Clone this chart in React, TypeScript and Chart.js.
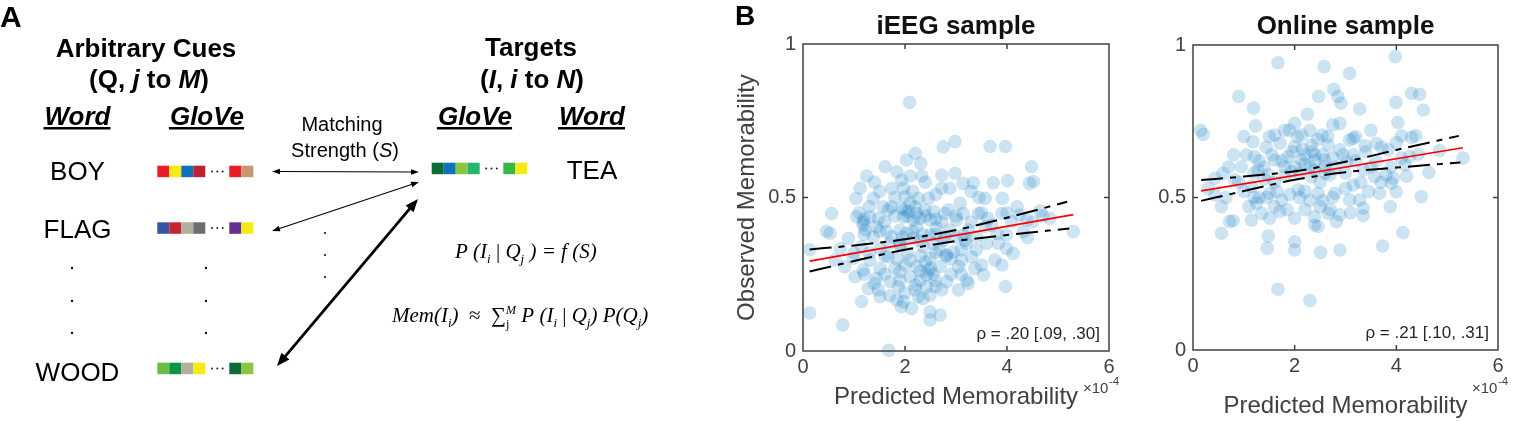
import React, { useEffect, useRef } from "react";
import { Chart, registerables } from "chart.js";

Chart.register(...registerables);

const SANS = '"Liberation Sans", Arial, Helvetica, sans-serif';
const SERIF = '"Liberation Serif", "Times New Roman", serif';
const AXIS = "#404040";

// ---------------- Panel A (diagram) ----------------
const cueWords = ["BOY", "FLAG", "WOOD"];
const cueGloveHead = [
  ["#ED1C24", "#F5EB14", "#0E72BA", "#BE2230"],
  ["#3A53A4", "#C4252F", "#B3AFA0", "#6D6E70"],
  ["#6ABD45", "#0D9547", "#B3AFA0", "#F5EB14"],
];
const cueGloveTail = [
  ["#EC1C24", "#C49A6C"],
  ["#662E91", "#F5EB14"],
  ["#0C6B37", "#8BC53F"],
];
const targetWord = "TEA";
const targetGloveHead = ["#0C6B37", "#0E72BA", "#8BC53F", "#27B473"];
const targetGloveTail = ["#3AB54A", "#F5EB14"];

// ---------------- Panel B (scatter) ----------------
// x values are in units of 1e-4
const xTicks = [0, 2, 4, 6];
const yTicks = [0, 0.5, 1];

const ieegPoints: [number, number][] = [
  [2.09, 0.81], [0.13, 0.33], [0.46, 0.39], [0.13, 0.124], [1.68, 0.002],
  [2.98, 0.682], [2.75, 0.665], [2.2, 0.644], [2.03, 0.622], [2.31, 0.611], [1.61, 0.6],
  [1.84, 0.584], [1.25, 0.57], [2.33, 0.57], [2.72, 0.573], [2.98, 0.579], [1.93, 0.557],
  [3.14, 0.546], [1.12, 0.53], [1.74, 0.53], [1.97, 0.53], [2.72, 0.53], [2.88, 0.53],
  [1.04, 0.497], [1.38, 0.497], [2.0, 0.503], [2.26, 0.497], [2.46, 0.497], [2.1, 0.481],
  [3.08, 0.481], [1.57, 0.47], [0.56, 0.448], [1.74, 0.47], [1.93, 0.465], [2.07, 0.454],
  [2.23, 0.448], [2.39, 0.459], [2.56, 0.454], [2.78, 0.448], [3.14, 0.448], [1.67, 0.459],
  [1.05, 0.437], [1.31, 0.437], [1.48, 0.432], [1.97, 0.437], [2.16, 0.427], [2.29, 0.432],
  [2.49, 0.427], [2.72, 0.421], [3.01, 0.427], [1.18, 0.41], [1.44, 0.405], [1.22, 0.394],
  [1.64, 0.389], [1.9, 0.394], [2.03, 0.383], [2.23, 0.405], [2.62, 0.4], [2.88, 0.394],
  [0.53, 0.383], [0.89, 0.367], [1.38, 0.372], [1.74, 0.372], [2.16, 0.367], [2.49, 0.378],
  [2.78, 0.372], [3.14, 0.378], [0.73, 0.334], [1.15, 0.34], [1.51, 0.334], [1.9, 0.345],
  [2.36, 0.34], [2.69, 0.329], [2.95, 0.323], [0.63, 0.296], [0.99, 0.302], [1.31, 0.296],
  [1.67, 0.307], [2.1, 0.296], [2.49, 0.302], [2.82, 0.313], [3.11, 0.296], [0.82, 0.275],
  [1.18, 0.264], [1.51, 0.269], [1.9, 0.258], [2.23, 0.275], [2.46, 0.264], [2.69, 0.275],
  [3.05, 0.275], [1.02, 0.242], [1.44, 0.237], [1.71, 0.226], [2.1, 0.242], [2.42, 0.248],
  [2.59, 0.231], [2.82, 0.226], [3.21, 0.231], [1.28, 0.204], [1.48, 0.199], [1.87, 0.209],
  [2.2, 0.215], [2.42, 0.209], [2.72, 0.199], [3.05, 0.199], [1.15, 0.161], [1.51, 0.177],
  [1.84, 0.166], [1.97, 0.161], [2.26, 0.177], [2.49, 0.182], [1.93, 0.144], [2.13, 0.139],
  [2.49, 0.128], [0.78, 0.085], [2.49, 0.101], [2.69, 0.117],
  [3.67, 0.666], [3.97, 0.666], [4.48, 0.6], [4.44, 0.546], [4.52, 0.552], [3.34, 0.548],
  [3.73, 0.548], [4.01, 0.555], [3.57, 0.497], [3.91, 0.497], [3.44, 0.448], [3.9, 0.448],
  [4.25, 0.443], [4.65, 0.457], [4.84, 0.432], [3.63, 0.432], [4.09, 0.421], [4.39, 0.427],
  [5.3, 0.389], [4.32, 0.389], [3.99, 0.378], [3.4, 0.372], [3.8, 0.383], [3.57, 0.405],
  [3.24, 0.394], [3.83, 0.351], [3.99, 0.334], [4.12, 0.318], [3.76, 0.296], [3.31, 0.307],
  [3.37, 0.269], [3.54, 0.248], [3.24, 0.22], [3.97, 0.21], [3.18, 0.361],
  [1.18, 0.42], [2.05, 0.44], [2.5, 0.27], [2.8, 0.31], [2.2, 0.2], [1.2, 0.43],
  [2.4, 0.29], [2.6, 0.38], [1.9, 0.35], [2.3, 0.36],
  [1.1, 0.45], [1.3, 0.47], [1.6, 0.42], [1.8, 0.44], [2.0, 0.46], [2.2, 0.47], [2.4, 0.44],
  [2.6, 0.43], [2.85, 0.46], [3.0, 0.44], [1.2, 0.38], [1.5, 0.39], [1.7, 0.35], [1.95, 0.37],
  [2.15, 0.39], [2.35, 0.38], [2.55, 0.35], [2.75, 0.36], [3.0, 0.37], [3.2, 0.35], [1.0, 0.32],
  [1.3, 0.32], [1.6, 0.31], [1.85, 0.3], [2.05, 0.32], [2.3, 0.31], [2.6, 0.32], [2.9, 0.3],
  [3.1, 0.33], [1.2, 0.25], [1.6, 0.25], [1.8, 0.27], [2.0, 0.28], [2.3, 0.26], [2.55, 0.25],
  [2.9, 0.25], [3.1, 0.25], [1.4, 0.22], [1.9, 0.23], [2.3, 0.23], [2.6, 0.21], [2.0, 0.19],
  [2.35, 0.17], [1.7, 0.18], [1.5, 0.52], [1.8, 0.5], [2.15, 0.52], [2.6, 0.51], [2.4, 0.55],
  [2.1, 0.57], [1.4, 0.55], [3.3, 0.52], [3.5, 0.45], [3.3, 0.42], [3.6, 0.35], [3.4, 0.33],
  [3.5, 0.28], [3.7, 0.41], [4.2, 0.47], [4.5, 0.42], [4.7, 0.44], [4.0, 0.45], [4.4, 0.37],
  [3.9, 0.28], [3.45, 0.5],
];
const ieegFit: [number, number][] = [[0.13, 0.293], [5.3, 0.444]];
const ieegUpper: [number, number][] = [[0.13, 0.331], [1, 0.344], [2, 0.364], [3, 0.394], [4, 0.434], [5.18, 0.486]];
const ieegLower: [number, number][] = [[0.13, 0.259], [1, 0.293], [2, 0.33], [3, 0.358], [4, 0.378], [5.22, 0.399]];
const ieegRho = "ρ = .20 [.09, .30]";

const onlinePoints: [number, number][] = [
  [1.67, 0.942], [2.58, 0.929], [3.08, 0.907], [0.9, 0.831], [1.19, 0.793], [2.77, 0.855],
  [2.85, 0.831], [2.91, 0.809], [2.47, 0.831], [2.25, 0.773], [1.23, 0.735], [2.0, 0.743],
  [1.18, 0.683], [1.61, 0.705], [1.9, 0.721], [2.14, 0.705], [2.54, 0.705], [2.75, 0.738],
  [2.89, 0.743], [3.08, 0.689], [1.05, 0.64], [1.44, 0.665], [1.71, 0.678], [2.0, 0.667],
  [2.33, 0.672], [2.66, 0.672], [2.89, 0.656], [1.21, 0.634], [0.95, 0.601], [1.61, 0.623],
  [1.87, 0.634], [2.13, 0.623], [2.39, 0.64], [2.59, 0.623], [3.02, 0.618], [0.59, 0.579],
  [0.82, 0.558], [1.28, 0.59], [1.48, 0.574], [1.94, 0.585], [2.33, 0.568], [2.69, 0.574],
  [0.43, 0.563], [0.43, 0.508], [0.56, 0.47], [1.15, 0.536], [1.25, 0.481], [1.51, 0.514],
  [1.74, 0.492], [2.07, 0.525], [2.46, 0.514], [2.79, 0.514], [3.08, 0.492], [1.35, 0.448],
  [1.71, 0.454], [2.0, 0.432], [2.39, 0.437], [2.66, 0.448], [2.89, 0.443], [0.79, 0.424],
  [0.72, 0.421], [1.15, 0.426], [1.51, 0.432], [2.39, 0.41], [2.46, 0.405], [2.82, 0.421],
  [0.56, 0.383], [1.48, 0.374], [1.46, 0.334], [2.0, 0.355], [2.0, 0.328], [2.51, 0.32],
  [2.89, 0.328], [1.67, 0.199], [2.3, 0.162],
  [3.98, 0.962], [4.3, 0.842], [4.46, 0.838], [3.99, 0.812], [3.28, 0.79], [4.53, 0.787],
  [4.03, 0.746], [4.1, 0.702], [4.3, 0.697], [4.38, 0.702], [3.15, 0.694], [3.61, 0.678],
  [3.71, 0.665], [3.38, 0.669], [3.84, 0.656], [4.85, 0.654], [4.43, 0.642], [4.26, 0.634],
  [4.1, 0.629], [5.31, 0.629], [3.15, 0.64], [3.35, 0.59], [3.57, 0.568], [3.8, 0.574],
  [3.94, 0.563], [4.17, 0.607], [4.64, 0.582], [3.9, 0.547], [3.15, 0.541], [4.0, 0.519],
  [3.67, 0.514], [4.49, 0.503], [3.28, 0.492], [3.35, 0.465], [3.35, 0.44], [3.88, 0.47],
  [4.13, 0.385], [3.73, 0.341],
  [0.15, 0.72], [0.2, 0.707], [0.3, 0.53],
  [2.2, 0.64], [2.3, 0.6], [2.1, 0.58], [2.5, 0.55], [2.4, 0.62], [1.8, 0.6], [2.2, 0.52],
  [2.6, 0.6], [1.4, 0.6], [1.3, 0.5],
  [1.2, 0.58], [1.4, 0.56], [1.6, 0.55], [1.8, 0.57], [2.0, 0.6], [2.2, 0.61], [2.4, 0.59],
  [2.6, 0.58], [2.8, 0.6], [3.0, 0.58], [1.3, 0.62], [1.55, 0.64], [1.75, 0.62], [1.95, 0.65],
  [2.15, 0.66], [2.35, 0.65], [2.55, 0.64], [2.75, 0.63], [2.95, 0.64], [3.2, 0.62], [1.0, 0.52],
  [1.2, 0.5], [1.45, 0.5], [1.65, 0.52], [1.9, 0.51], [2.1, 0.5], [2.3, 0.49], [2.55, 0.49],
  [2.75, 0.5], [3.0, 0.53], [1.1, 0.47], [1.6, 0.47], [1.85, 0.46], [2.2, 0.46], [2.5, 0.47],
  [2.7, 0.46], [3.1, 0.45], [1.5, 0.7], [1.8, 0.72], [2.05, 0.7], [2.3, 0.72], [2.45, 0.69],
  [2.65, 0.7], [3.2, 0.7], [3.4, 0.65], [3.5, 0.6], [3.3, 0.55], [3.6, 0.62], [3.7, 0.55],
  [0.7, 0.6], [0.9, 0.55], [0.65, 0.5], [3.45, 0.52], [3.9, 0.6], [4.2, 0.57], [4.0, 0.68],
  [3.5, 0.72], [1.0, 0.7], [0.8, 0.64],
];
const onlineFit: [number, number][] = [[0.16, 0.522], [5.31, 0.663]];
const onlineUpper: [number, number][] = [[0.16, 0.557], [1, 0.569], [2, 0.586], [3, 0.617], [4, 0.656], [5.23, 0.702]];
const onlineLower: [number, number][] = [[0.16, 0.489], [1, 0.521], [2, 0.558], [3, 0.583], [4, 0.598], [5.26, 0.615]];
const onlineRho = "ρ = .21 [.10, .31]";

// ---------------- helpers ----------------
type Run = { t: string; f: string; dy?: number; stay?: boolean };

function runsWidth(ctx: CanvasRenderingContext2D, runs: Run[]) {
  let w = 0;
  for (const r of runs) {
    ctx.font = r.f;
    if (!r.stay) w += ctx.measureText(r.t).width;
  }
  return w;
}

function drawRuns(ctx: CanvasRenderingContext2D, runs: Run[], x: number, y: number, center: boolean) {
  let cx = center ? x - runsWidth(ctx, runs) / 2 : x;
  ctx.textAlign = "left";
  ctx.textBaseline = "alphabetic";
  for (const r of runs) {
    ctx.font = r.f;
    ctx.fillText(r.t, cx, y + (r.dy || 0));
    if (!r.stay) cx += ctx.measureText(r.t).width;
  }
}

function arrowHead(ctx: CanvasRenderingContext2D, x: number, y: number, ang: number, L: number, W: number) {
  const c = Math.cos(ang), s = Math.sin(ang);
  ctx.beginPath();
  ctx.moveTo(x, y);
  ctx.lineTo(x - L * c + W * s, y - L * s - W * c);
  ctx.lineTo(x - L * c - W * s, y - L * s + W * c);
  ctx.closePath();
  ctx.fill();
}

function doubleArrow(ctx: CanvasRenderingContext2D, x1: number, y1: number, x2: number, y2: number, lw: number, L: number, W: number) {
  const ang = Math.atan2(y2 - y1, x2 - x1);
  const c = Math.cos(ang), s = Math.sin(ang);
  ctx.lineWidth = lw;
  ctx.beginPath();
  ctx.moveTo(x1 + c * L * 0.7, y1 + s * L * 0.7);
  ctx.lineTo(x2 - c * L * 0.7, y2 - s * L * 0.7);
  ctx.stroke();
  arrowHead(ctx, x2, y2, ang, L, W);
  arrowHead(ctx, x1, y1, ang + Math.PI, L, W);
}

const diagramPlugin = {
  id: "diagram",
  afterDraw(chart: any) {
    const { ctx, scales } = chart;
    const X = (v: number) => scales.x.getPixelForValue(v);
    const Y = (v: number) => scales.y.getPixelForValue(v);
    ctx.save();
    ctx.fillStyle = "#000";
    ctx.strokeStyle = "#000";

    drawRuns(ctx, [{ t: "A", f: `bold 30px ${SANS}` }], X(0), Y(27), false);

    const B = `bold 26px ${SANS}`;
    const BI = `italic bold 26px ${SANS}`;
    drawRuns(ctx, [{ t: "Arbitrary Cues", f: B }], X(146), Y(57), true);
    drawRuns(ctx, [{ t: "(Q, ", f: B }, { t: "j", f: BI }, { t: " to ", f: B }, { t: "M", f: BI }, { t: ")", f: B }], X(149), Y(88), true);
    drawRuns(ctx, [{ t: "Targets", f: B }], X(531), Y(56), true);
    drawRuns(ctx, [{ t: "(", f: B }, { t: "I", f: BI }, { t: ", ", f: B }, { t: "i", f: BI }, { t: " to ", f: B }, { t: "N", f: BI }, { t: ")", f: B }], X(532), Y(88), true);

    const headers: [string, number][] = [["Word", 77.5], ["GloVe", 207], ["GloVe", 475], ["Word", 592]];
    ctx.font = BI;
    for (const [t, cx] of headers) {
      ctx.font = BI;
      const w = ctx.measureText(t).width;
      drawRuns(ctx, [{ t, f: BI }], X(cx), Y(125), true);
      ctx.fillRect(X(cx - w / 2 - 1), Y(127), w + 1, 2.5);
    }

    const R20 = `20px ${SANS}`;
    drawRuns(ctx, [{ t: "Matching", f: R20 }], X(342), Y(131), true);
    drawRuns(ctx, [{ t: "Strength (", f: R20 }, { t: "S", f: `italic 20px ${SANS}` }, { t: ")", f: R20 }], X(345), Y(157), true);

    const wordBase = [179.5, 238, 381];
    cueWords.forEach((w, i) => drawRuns(ctx, [{ t: w, f: `26px ${SANS}` }], X(77.5), Y(wordBase[i]), true));
    drawRuns(ctx, [{ t: targetWord, f: `26px ${SANS}` }], X(592), Y(179), true);

    const sq = 12, sh = 11.5;
    const gloveTop = [165.7, 222.3, 362.7];
    const dot = (x: number, y: number, r = 1.15) => {
      ctx.beginPath();
      ctx.arc(X(x), Y(y), r, 0, Math.PI * 2);
      ctx.fill();
    };
    const drawGlove = (head: string[], tail: string[], x0: number, xt: number, top: number) => {
      head.forEach((c, k) => { ctx.fillStyle = c; ctx.fillRect(X(x0 + k * sq), Y(top), sq, sh); });
      tail.forEach((c, k) => { ctx.fillStyle = c; ctx.fillRect(X(xt + k * sq), Y(top), sq, sh); });
      ctx.fillStyle = "#222";
      const mid = (x0 + head.length * sq + xt) / 2;
      [-5.3, 0, 5.3].forEach((d) => dot(mid + d, top + sh / 2, 1.0));
    };
    cueGloveHead.forEach((h, i) => drawGlove(h, cueGloveTail[i], 157.3, 229.3, gloveTop[i]));
    drawGlove(targetGloveHead, targetGloveTail, 431.7, 503.3, 162.7);

    ctx.fillStyle = "#000";
    [268, 301, 333].forEach((y) => { dot(72, y); dot(206, y); });
    [233, 255, 277].forEach((y) => dot(325, y, 1.0));

    doubleArrow(ctx, X(272), Y(171.5), X(419), Y(172), 1.1, 8, 2.8);
    doubleArrow(ctx, X(272), Y(231), X(419), Y(182), 1.1, 8, 2.8);
    doubleArrow(ctx, X(277), Y(366), X(418), Y(199), 2.8, 13, 5.2);

    const I21 = `italic 21px ${SERIF}`;
    const R21 = `21px ${SERIF}`;
    const IS = `italic 13px ${SERIF}`;
    drawRuns(ctx, [
      { t: "P (I", f: I21 }, { t: "i", f: IS, dy: 5 }, { t: " | ", f: R21 }, { t: "Q", f: I21 },
      { t: "j", f: IS, dy: 5 }, { t: " ) = ", f: I21 }, { t: "f (S)", f: I21 },
    ], X(455), Y(258), false);
    drawRuns(ctx, [
      { t: "Mem(I", f: I21 }, { t: "i", f: IS, dy: 5 }, { t: ")  ", f: I21 }, { t: "≈", f: R21 }, { t: "  ", f: I21 },
      { t: "∑", f: R21 }, { t: "j", f: `12px ${SERIF}`, dy: 6, stay: true }, { t: "M", f: `italic 12px ${SERIF}`, dy: -8 },
      { t: " P (I", f: I21 }, { t: "i", f: IS, dy: 5 }, { t: " | ", f: R21 }, { t: "Q", f: I21 },
      { t: "j", f: IS, dy: 5 }, { t: ") P(Q", f: I21 }, { t: "j", f: IS, dy: 5 }, { t: ")", f: I21 },
    ], X(392), Y(322), false);

    ctx.restore();
  },
};

function panelBPlugin(title: string, rho: string, letter: string | null) {
  return {
    id: "panelB",
    afterDraw(chart: any) {
      const { ctx, chartArea: a, scales } = chart;
      const xs = scales.x, ys = scales.y;
      ctx.save();
      ctx.strokeStyle = AXIS;
      ctx.lineWidth = 1.5;
      ctx.strokeRect(a.left, a.top, a.right - a.left, a.bottom - a.top);
      const tl = 5;
      ctx.beginPath();
      for (const v of xTicks) {
        const p = xs.getPixelForValue(v);
        if (p <= a.left + 1 || p >= a.right - 1) continue;
        ctx.moveTo(p, a.bottom); ctx.lineTo(p, a.bottom - tl);
        ctx.moveTo(p, a.top); ctx.lineTo(p, a.top + tl);
      }
      for (const v of yTicks) {
        const p = ys.getPixelForValue(v);
        if (p <= a.top + 1 || p >= a.bottom - 1) continue;
        ctx.moveTo(a.left, p); ctx.lineTo(a.left + tl, p);
        ctx.moveTo(a.right, p); ctx.lineTo(a.right - tl, p);
      }
      ctx.stroke();

      ctx.textBaseline = "alphabetic";
      ctx.fillStyle = "#111";
      ctx.font = `bold 26px ${SANS}`;
      ctx.textAlign = "center";
      ctx.fillText(title, (a.left + a.right) / 2, 34);

      ctx.fillStyle = "#262626";
      ctx.font = `17px ${SANS}`;
      ctx.textAlign = "right";
      ctx.fillText(rho, a.right - 9, a.bottom - 12);

      ctx.textAlign = "left";
      ctx.fillStyle = AXIS;
      ctx.font = `15px ${SANS}`;
      const ex = a.right - 26;
      ctx.fillText("×10", ex, 393);
      const w = ctx.measureText("×10").width;
      ctx.font = `11.5px ${SANS}`;
      ctx.fillText("-4", ex + w + 0.5, 385);

      if (letter) {
        ctx.fillStyle = "#000";
        ctx.font = `bold 28px ${SANS}`;
        ctx.fillText(letter, 10, 25);
      }
      ctx.restore();
    },
  };
}

const toXY = (arr: [number, number][]) => arr.map(([x, y]) => ({ x, y }));

function scatterConfig(opts: {
  points: [number, number][]; fit: [number, number][]; upper: [number, number][]; lower: [number, number][];
  title: string; rho: string; letter: string | null; yTitle: boolean; yWidth: number; padRight: number;
  padTop: number; xHeight: number; xTitlePad: number;
}) {
  const dash = [22, 7, 6, 7];
  return {
    type: "scatter",
    data: {
      datasets: [
        {
          type: "scatter", data: toXY(opts.points), pointRadius: 6.8, pointHoverRadius: 6.8,
          backgroundColor: "rgba(0,114,189,0.2)", borderColor: "rgba(0,0,0,0)", borderWidth: 0,
          clip: false, order: 4,
        },
        {
          type: "line", data: toXY(opts.upper), borderColor: "#000", borderWidth: 2, borderDash: dash,
          pointRadius: 0, showLine: true, fill: false, cubicInterpolationMode: "monotone", order: 3,
        },
        {
          type: "line", data: toXY(opts.lower), borderColor: "#000", borderWidth: 2, borderDash: dash,
          pointRadius: 0, showLine: true, fill: false, cubicInterpolationMode: "monotone", order: 2,
        },
        {
          type: "line", data: toXY(opts.fit), borderColor: "#FF0000", borderWidth: 1.7,
          pointRadius: 0, showLine: true, fill: false, order: 1,
        },
      ],
    },
    options: {
      animation: false,
      responsive: false,
      events: [],
      layout: { padding: { top: opts.padTop, right: opts.padRight, bottom: 0, left: 0 } },
      plugins: { legend: { display: false }, tooltip: { enabled: false }, title: { display: false } },
      scales: {
        x: {
          type: "linear", min: 0, max: 6,
          afterBuildTicks: (s: any) => { s.ticks = xTicks.map((value) => ({ value })); },
          afterFit: (s: any) => { s.height = opts.xHeight; },
          ticks: { color: AXIS, font: { family: SANS, size: 20 }, padding: 4, maxRotation: 0, autoSkip: false, callback: (v: any) => `${v}` },
          grid: { display: false, drawTicks: false },
          border: { display: false },
          title: {
            display: true, text: "Predicted Memorability", color: AXIS,
            font: { family: SANS, size: 24 }, padding: { top: 0, bottom: opts.xTitlePad },
          },
        },
        y: {
          type: "linear", min: 0, max: 1,
          afterBuildTicks: (s: any) => { s.ticks = yTicks.map((value) => ({ value })); },
          afterFit: (s: any) => { s.width = opts.yWidth; },
          ticks: { color: AXIS, font: { family: SANS, size: 20 }, padding: 7, autoSkip: false, callback: (v: any) => `${v}` },
          grid: { display: false, drawTicks: false },
          border: { display: false },
          title: {
            display: opts.yTitle, text: "Observed Memorability", color: AXIS,
            font: { family: SANS, size: 24 }, padding: { top: 8, bottom: 0 },
          },
        },
      },
    },
    plugins: [panelBPlugin(opts.title, opts.rho, opts.letter)],
  };
}

export default function App() {
  const aRef = useRef<HTMLCanvasElement>(null);
  const b1Ref = useRef<HTMLCanvasElement>(null);
  const b2Ref = useRef<HTMLCanvasElement>(null);

  useEffect(() => {
    const charts: Chart[] = [];
    if (aRef.current) {
      charts.push(
        new Chart(aRef.current, {
          type: "scatter",
          data: { datasets: [] },
          options: {
            animation: false,
            responsive: false,
            events: [],
            layout: { padding: 0 },
            plugins: { legend: { display: false }, tooltip: { enabled: false } },
            scales: {
              x: { type: "linear", display: false, min: 0, max: 725 },
              y: { type: "linear", display: false, min: 0, max: 421, reverse: true },
            },
          },
          plugins: [diagramPlugin],
        } as any)
      );
    }
    if (b1Ref.current) {
      charts.push(
        new Chart(b1Ref.current, scatterConfig({
          points: ieegPoints, fit: ieegFit, upper: ieegUpper, lower: ieegLower,
          title: "iEEG sample", rho: ieegRho, letter: "B", yTitle: true,
          yWidth: 78, padRight: 26, padTop: 44, xHeight: 70, xTitlePad: 9,
        }) as any)
      );
    }
    if (b2Ref.current) {
      charts.push(
        new Chart(b2Ref.current, scatterConfig({
          points: onlinePoints, fit: onlineFit, upper: onlineUpper, lower: onlineLower,
          title: "Online sample", rho: onlineRho, letter: null, yTitle: false,
          yWidth: 58, padRight: 17, padTop: 45, xHeight: 71, xTitlePad: 0,
        }) as any)
      );
    }
    return () => charts.forEach((c) => c.destroy());
  }, []);

  return (
    <div style={{ position: "absolute", left: 0, top: 0, width: 1515, height: 421, background: "#fff", overflow: "hidden" }}>
      <canvas ref={aRef} width={725} height={421} style={{ position: "absolute", left: 0, top: 0 }} />
      <canvas ref={b1Ref} width={410} height={421} style={{ position: "absolute", left: 725, top: 0 }} />
      <canvas ref={b2Ref} width={380} height={421} style={{ position: "absolute", left: 1135, top: 0 }} />
    </div>
  );
}
